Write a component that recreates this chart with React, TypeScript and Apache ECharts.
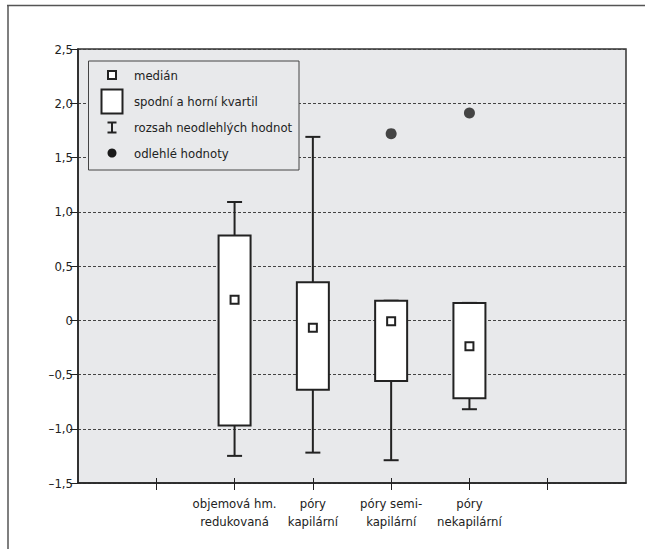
import React, { useEffect, useRef } from "react";
import * as echarts from "echarts";

const categories = [
  "",
  "",
  "objemová hm.\nredukovaná",
  "póry\nkapilární",
  "póry semi-\nkapilární",
  "póry\nnekapilární",
  "",
  "",
];
const boxCategories = [
  "objemová hm.\nredukovaná",
  "póry\nkapilární",
  "póry semi-\nkapilární",
  "póry\nnekapilární",
];
const boxMin = [-1.25, -1.22, -1.29, -0.82];
const boxQ1 = [-0.97, -0.64, -0.56, -0.72];
const boxMedian = [0.19, -0.07, -0.01, -0.24];
const boxQ3 = [0.78, 0.35, 0.18, 0.16];
const boxMax = [1.09, 1.69, 0.18, 0.16];

const outlierCategories = ["póry semi-\nkapilární", "póry\nnekapilární"];
const outlierValues = [1.72, 1.91];

const yTickLabels = ["–1,5", "–1,0", "–0,5", "0", "0,5", "1,0", "1,5", "2,0", "2,5"];

const legendLabels = [
  "medián",
  "spodní a horní kvartil",
  "rozsah neodlehlých hodnot",
  "odlehlé hodnoty",
];

const FONT = "'Liberation Sans Narrow', 'DejaVu Sans Condensed', 'Roboto Condensed', sans-serif";
const DARK = "#222";
const BG = "#e8e9eb";

export default function App() {
  const ref = useRef<HTMLDivElement>(null);

  useEffect(() => {
    if (!ref.current) return;
    const chart = echarts.init(ref.current, undefined, { renderer: "svg" });

    const boxData = boxCategories.map((c, i) => [
      categories.indexOf(c),
      boxMin[i],
      boxQ1[i],
      boxMedian[i],
      boxQ3[i],
      boxMax[i],
    ]);
    const outlierData = outlierCategories.map((c, i) => [categories.indexOf(c), outlierValues[i]]);

    const rowY = [75, 101.5, 127.5, 153];
    const legendX = 112;
    const Z = 100;

    chart.setOption({
      animation: false,
      textStyle: { fontFamily: FONT },
      grid: {
        left: 78,
        right: 27,
        top: 49,
        bottom: 66,
        show: true,
        backgroundColor: BG,
        borderColor: "#333",
        borderWidth: 1.5,
      },
      xAxis: [
        {
          type: "category",
          data: categories,
          boundaryGap: false,
          position: "bottom",
          axisLine: { show: true, onZero: false, lineStyle: { color: DARK, width: 1.5 } },
          axisTick: {
            show: true,
            length: 7,
            interval: (i: number) => i > 0 && i < categories.length - 1,
            lineStyle: { color: DARK, width: 1 },
          },
          axisLabel: {
            interval: 0,
            margin: 11,
            fontSize: 13,
            lineHeight: 18,
            color: DARK,
            fontFamily: FONT,
          },
          splitLine: { show: false },
        },
        {
          type: "category",
          data: categories,
          boundaryGap: false,
          position: "bottom",
          offset: 0,
          axisLine: { show: false, onZero: false },
          axisTick: {
            show: true,
            inside: true,
            length: 5,
            interval: (i: number) => i > 0 && i < categories.length - 1,
            lineStyle: { color: DARK, width: 1 },
          },
          axisLabel: { show: false },
          splitLine: { show: false },
        },
      ],
      yAxis: {
        type: "value",
        min: -1.5,
        max: 2.5,
        interval: 0.5,
        axisLine: { show: true, onZero: false, lineStyle: { color: DARK, width: 1.5 } },
        axisTick: { show: true, length: 8, lineStyle: { color: DARK, width: 1 } },
        axisLabel: {
          margin: 5,
          fontSize: 13,
          color: DARK,
          fontFamily: FONT,
          formatter: (v: number) => yTickLabels[Math.round((v + 1.5) / 0.5)] ?? "",
        },
        splitLine: {
          show: true,
          lineStyle: { color: "#444", width: 1, type: [3, 2] },
        },
      },
      series: [
        {
          type: "custom",
          xAxisIndex: 0,
          data: boxData,
          encode: { x: 0, y: [1, 2, 3, 4, 5] },
          renderItem: (params: any, api: any) => {
            const x = api.value(0);
            const pMin = api.coord([x, api.value(1)]);
            const pQ1 = api.coord([x, api.value(2)]);
            const pMed = api.coord([x, api.value(3)]);
            const pQ3 = api.coord([x, api.value(4)]);
            const pMax = api.coord([x, api.value(5)]);
            const cx = pMin[0];
            const bw = 32;
            const cw = 15;
            const ls = { stroke: DARK, lineWidth: 2 };
            return {
              type: "group",
              children: [
                { type: "line", shape: { x1: cx, y1: pMax[1], x2: cx, y2: pQ3[1] }, style: ls },
                { type: "line", shape: { x1: cx, y1: pQ1[1], x2: cx, y2: pMin[1] }, style: ls },
                { type: "line", shape: { x1: cx - cw / 2, y1: pMax[1], x2: cx + cw / 2, y2: pMax[1] }, style: ls },
                { type: "line", shape: { x1: cx - cw / 2, y1: pMin[1], x2: cx + cw / 2, y2: pMin[1] }, style: ls },
                {
                  type: "rect",
                  shape: { x: cx - bw / 2, y: pQ3[1], width: bw, height: pQ1[1] - pQ3[1] },
                  style: { fill: "#fff", stroke: DARK, lineWidth: 2 },
                },
                {
                  type: "rect",
                  shape: { x: cx - 4, y: pMed[1] - 4, width: 8, height: 8 },
                  style: { fill: "#fff", stroke: DARK, lineWidth: 2 },
                },
              ],
            };
          },
          z: 3,
        },
        {
          type: "scatter",
          xAxisIndex: 0,
          data: outlierData,
          symbol: "circle",
          symbolSize: 11,
          itemStyle: { color: "#1a1a1a" },
          z: 4,
        },
      ],
      graphic: [
        { type: "line", shape: { x1: 7, y1: 5.5, x2: 645, y2: 5.5 }, style: { stroke: "#555", lineWidth: 1.5 } },
        { type: "line", shape: { x1: 8, y1: 5, x2: 8, y2: 549 }, style: { stroke: "#555", lineWidth: 1.5 } },
        {
          type: "rect",
          z: Z,
          shape: { x: 88.5, y: 61, width: 210.5, height: 109 },
          style: { fill: BG, stroke: "#444", lineWidth: 1 },
        },
        {
          type: "rect",
          z: Z + 1,
          shape: { x: legendX - 4, y: rowY[0] - 4, width: 8, height: 8 },
          style: { fill: "#fff", stroke: DARK, lineWidth: 2 },
        },
        {
          type: "rect",
          z: Z + 1,
          shape: { x: legendX - 10.5, y: rowY[1] - 12, width: 21, height: 24 },
          style: { fill: "#fff", stroke: DARK, lineWidth: 2 },
        },
        { type: "line", z: Z + 1, shape: { x1: legendX - 4.5, y1: rowY[2] - 5, x2: legendX + 4.5, y2: rowY[2] - 5 }, style: { stroke: DARK, lineWidth: 2 } },
        { type: "line", z: Z + 1, shape: { x1: legendX - 4.5, y1: rowY[2] + 5, x2: legendX + 4.5, y2: rowY[2] + 5 }, style: { stroke: DARK, lineWidth: 2 } },
        { type: "line", z: Z + 1, shape: { x1: legendX, y1: rowY[2] - 5, x2: legendX, y2: rowY[2] + 5 }, style: { stroke: DARK, lineWidth: 2 } },
        { type: "circle", z: Z + 1, shape: { cx: legendX, cy: rowY[3], r: 4.5 }, style: { fill: "#1a1a1a" } },
        ...legendLabels.map((t, i) => ({
          type: "text",
          z: Z + 1,
          x: 134,
          y: rowY[i],
          style: {
            text: t,
            fill: DARK,
            fontSize: 13,
            fontFamily: FONT,
            verticalAlign: "middle",
            align: "left",
          },
        })),
      ],
    });

    return () => chart.dispose();
  }, []);

  return (
    <div
      ref={ref}
      style={{ position: "absolute", left: 0, top: 0, width: 653, height: 549, background: "#fff" }}
    />
  );
}
